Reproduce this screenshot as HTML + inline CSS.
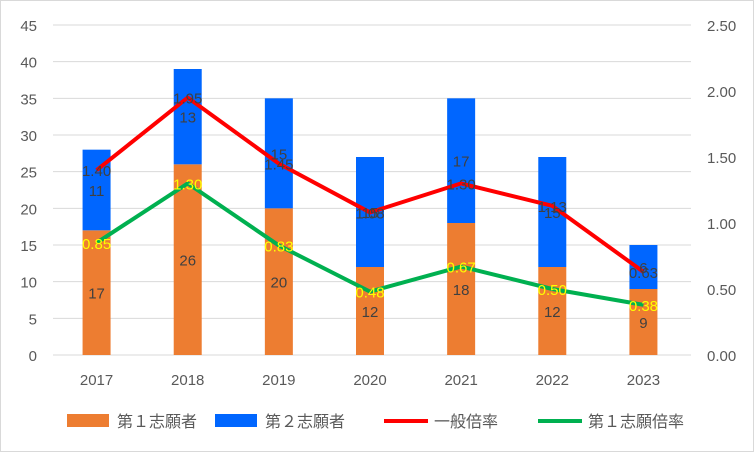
<!DOCTYPE html>
<html><head><meta charset="utf-8"><style>
body{margin:0;background:#fff;font-family:"Liberation Sans","Noto Sans CJK JP",sans-serif}
#c{position:absolute;left:0;top:0;width:752px;height:450px;border:1px solid #d9d9d9}
</style></head><body>
<svg id="c" width="754" height="452" xmlns="http://www.w3.org/2000/svg"></svg>
<script>
const categories=["2017","2018","2019","2020","2021","2022","2023"];
const first=[17,26,20,12,18,12,9];
const second=[11,13,15,15,17,15,6];
const generalRate=[1.40,1.95,1.45,1.08,1.30,1.13,0.63];
const firstRate=[0.85,1.30,0.83,0.48,0.67,0.50,0.38];
const leftTicks=[0,5,10,15,20,25,30,35,40,45];
const rightTicks=["0.00","0.50","1.00","1.50","2.00","2.50"];
const svg=document.getElementById('c');const NS="http://www.w3.org/2000/svg";
function el(t,a,txt){const e=document.createElementNS(NS,t);for(const k in a)e.setAttribute(k,a[k]);if(txt!=null)e.textContent=txt;svg.appendChild(e);return e;}
const y0=354,yTop=24,x0=50,x1=688;
const yL=v=>y0-(v/45)*(y0-yTop);
const yR=v=>y0-(v/2.5)*(y0-yTop);
const step=(x1-x0)/categories.length;
const xC=i=>x0+step*(i+0.5);
leftTicks.forEach(t=>{
 const g=el('line',{x1:52,x2:690,y1:yL(t),y2:yL(t),stroke:'#d9d9d9','stroke-width':1});
 
 const l=el('text',{x:36,y:yL(t)+6,'text-anchor':'end','font-size':15,fill:'#595959'},t);
 
});
rightTicks.forEach(t=>{
 const l=el('text',{x:706,y:yR(+t)+6,'font-size':15,fill:'#595959'},t);
 
});
categories.forEach((c,i)=>{
 const l=el('text',{x:xC(i),y:384,'text-anchor':'middle','font-size':15,fill:'#595959'},c);
 
 const bw=28;
 const b1=el('rect',{x:xC(i)-bw/2,y:yL(first[i]),width:bw,height:y0-yL(first[i]),fill:'#ed7d31'});
 
 const b2=el('rect',{x:xC(i)-bw/2,y:yL(first[i]+second[i]),width:bw,height:yL(first[i])-yL(first[i]+second[i]),fill:'#0066ff'});
 
});
function line(arr,color,name){
 const p=el('polyline',{points:arr.map((v,i)=>xC(i)+','+yR(v)).join(' '),fill:'none',stroke:color,'stroke-width':4,'stroke-linejoin':'round'});
 
}
line(generalRate,'#ff0000','line-general-rate');
line(firstRate,'#00b050','line-first-rate');
categories.forEach((c,i)=>{
 const a=el('text',{x:xC(i),y:(yL(first[i])+y0)/2+6,'text-anchor':'middle','font-size':15,fill:'#404040'},first[i]);
 
 const b=el('text',{x:xC(i),y:(yL(first[i])+yL(first[i]+second[i]))/2+6,'text-anchor':'middle','font-size':15,fill:'#404040'},second[i]);
 
 const d=el('text',{x:xC(i),y:yR(generalRate[i])+6,'text-anchor':'middle','font-size':15,fill:'#404040'},generalRate[i].toFixed(2));
 
 const e=el('text',{x:xC(i),y:yR(firstRate[i])+6,'text-anchor':'middle','font-size':15,fill:'#ffff00'},firstRate[i].toFixed(2));
 
});
const leg=[['rect','#ed7d31','第１志願者',66],['rect','#0066ff','第２志願者',214],['line','#ff0000','一般倍率',383],['line','#00b050','第１志願倍率',537]];
leg.forEach(([t,col,txt,x])=>{
 let m;
 if(t==='rect')m=el('rect',{x:x,y:413,width:42,height:13,fill:col});
 else m=el('line',{x1:x,x2:x+44,y1:420,y2:420,stroke:col,'stroke-width':4});
 
 const l=el('text',{x:x+50,y:426,'font-size':16,fill:'#595959'},txt);
 
});
</script></body></html>
